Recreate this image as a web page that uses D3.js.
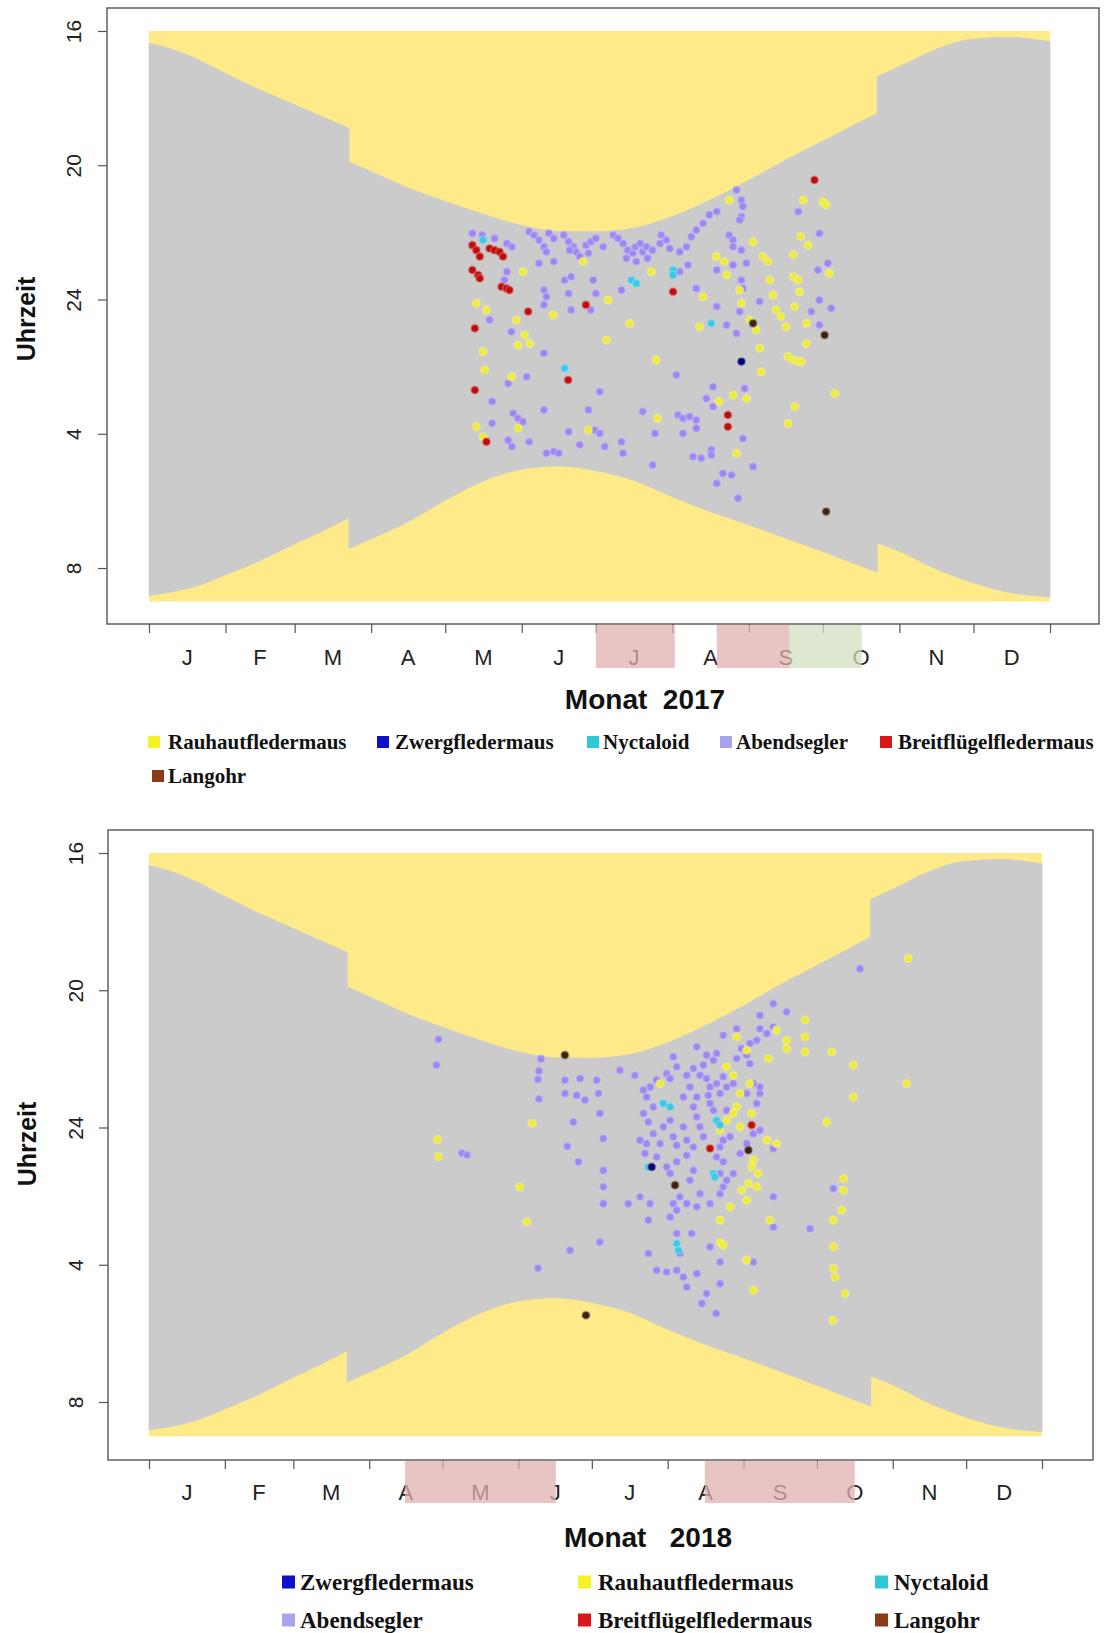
<!DOCTYPE html>
<html><head><meta charset="utf-8">
<script src="https://cdn.jsdelivr.net/npm/d3@7"></script>
<style>
body{margin:0;background:#fff;}
svg{display:block;}
</style></head><body>
<svg id="c" width="1104" height="1633"></svg>
<script>
// ---------------- data ----------------
const monthStarts = [0,31,59,90,120,151,181,212,243,273,304,334,365];
const monthLabels = ["J","F","M","A","M","J","J","A","S","O","N","D"];
const hourTicks = [16,20,24,28,32];
const hourTickLabels = ["16","20","24","4","8"];

// sunset / sunrise (hours, sunrise +24), three clock-time segments
const sunSeg1Doy = [0,10,20,31,45,59,70,81];
const sunSeg1Set = [16.37,16.56,16.86,17.27,17.76,18.2,18.55,18.9];
const sunSeg1Rise = [32.81,32.7,32.52,32.2,31.78,31.28,30.91,30.5];
const sunSeg2Doy = [81,91,105,120,135,150,166,181,196,212,227,243,258,273,285,295];
const sunSeg2Set = [19.9,20.22,20.68,21.08,21.45,21.78,21.97,21.98,21.88,21.53,21.05,20.45,19.84,19.28,18.83,18.45];
const sunSeg2Rise = [31.42,31.1,30.62,29.98,29.42,29.07,28.96,29.1,29.38,29.88,30.31,30.71,31.11,31.51,31.85,32.12];
const sunSeg3Doy = [295,304,318,333,348,365];
const sunSeg3Set = [17.36,17.06,16.57,16.25,16.19,16.32];
const sunSeg3Rise = [31.25,31.5,32.0,32.42,32.72,32.86];

const species2017 = ["Rauhautfledermaus","Zwergfledermaus","Nyctaloid","Abendsegler","Breitflügelfledermaus","Langohr"];
const species2018 = ["Zwergfledermaus","Rauhautfledermaus","Nyctaloid","Abendsegler","Breitflügelfledermaus","Langohr"];

const abendsegler2017 = [[131,22.03],[135,22.08],[140,22.18],[145,22.33],[147,22.43],[154,21.98],[156,22.08],[158,22.23],[160,22.43],[161,22.58],[162,22.03],[164,22.18],[168,22.08],[170,22.28],[172,22.43],[173,22.58],[174.5,22.72],[177,22.38],[179,22.28],[181,22.18],[184,22.43],[188,22.08],[190,22.18],[192,22.33],[194,22.53],[196,22.62],[197,22.43],[199,22.33],[200,22.58],[201.5,22.43],[204,22.53],[207,22.33],[207.5,22.08],[209.6,22.23],[211,22.48],[215,22.58],[217.7,22.43],[219.7,22.13],[221.7,21.93],[224.4,21.73],[227,21.48],[230,21.38],[235,22.08],[236.6,22.23],[238,20.74],[240,21.04],[240.6,21.23],[240,21.53],[239.3,21.63],[236.6,22.43],[240,22.53],[242,22.92],[240,23.42],[263,21.38],[271.6,22.03],[275,22.92],[271,23.12],[271.6,24.02],[276.4,24.26],[268.3,24.36],[271.6,24.76],
[145,23.17],[158,22.92],[164,22.87],[160,23.72],[161,23.92],[160,24.16],[168.4,23.42],[171,23.32],[170,23.82],[180,23.42],[181,23.82],[179,24.31],[171,24.31],[160,25.6],[153,26.3],[145.5,26.5],[139,27.04],[139,27.69],[147.5,27.39],[149.5,27.54],[151.5,27.64],[145.5,28.19],[147,28.38],[154,28.24],[160,27.29],[161,28.58],[164,28.53],[166,28.58],[170,27.94],[174.5,28.33],[178,27.29],[180.6,27.89],[182.6,27.99],[182.6,26.75],[184.6,28.38],[191.4,28.24],[192,28.58],[200,27.34],[204,28.93],[205,27.99],[213.6,26.25],[214.3,27.44],[216.3,27.54],[219,27.49],[221.7,27.59],[216.3,27.99],[221.7,27.84],[220.4,28.68],[223.7,28.73],[227.8,28.48],[227.8,28.63],[228.5,26.6],[225.8,26.95],[228.5,27.19],[232.5,29.18],[236,29.23],[230,29.48],[238.6,29.92],[244.7,28.98],[240.6,28.14],[241.3,26.65],[230,24.21],[234,24.76],[238,25.01],[239.3,24.36],[247.4,24.06],[236.6,22.97],[230,23.12],[221.7,23.67],[215,23.17],[218.3,22.97],[191.4,23.72],[240.6,23.67],
[193.4,22.77],[202,22.77],[197.4,22.87],[170.4,22.53],[178,22.62],[144,23.42],[138,24.61],[146.8,24.96]];
const rauhaut2017 = [[132.6,24.11],[136.7,24.31],[151.5,23.17],[148.8,24.61],[152.2,25.06],[154.2,25.31],[149.5,25.36],[135.3,25.55],[136,26.1],[146.8,26.3],[132.6,27.79],[135.3,28.09],[149.5,27.84],[178,27.89],[163.7,24.46],[175.8,22.87],[186,24.02],[185.3,25.21],[194.7,24.71],[203.5,23.17],[205.5,25.8],[206,27.54],[224.4,23.92],[223,24.81],[229.8,22.72],[233,22.87],[234,23.27],[235,21.04],[244.7,22.28],[239.3,23.72],[240,24.11],[243.3,24.61],[246,24.91],[247.4,25.45],[248,26.15],[251.4,23.42],[248.7,22.72],[250.7,22.87],[252.8,23.87],[254,24.31],[256,24.51],[258,24.81],[258.8,25.7],[261,25.8],[263,25.85],[264.2,25.85],[266.3,25.31],[261.5,24.21],[261,23.32],[263,23.42],[265,21.04],[273,21.09],[274.3,21.19],[275.7,23.22],[277.7,26.8],[261.5,27.19],[258.8,27.69],[231,27.04],[236.6,26.85],[242,26.95],[238,28.58],[266.3,24.71],[263.5,23.77],[261,22.67],[264,22.13],[267,22.38]];
const nyctaloid2017 = [[195.4,23.42],[197.4,23.52],[212.3,23.12],[212.3,23.27],[227.8,24.71],[168.4,26.05],[135.3,22.23]];
const zwerg2017 = [[240,25.85]];
const breit2017 = [[131,22.38],[132.6,22.53],[134,22.72],[138,22.48],[140,22.53],[142,22.58],[143.4,22.72],[131,23.12],[133.3,23.27],[134,23.37],[142.8,23.62],[144.8,23.67],[146,23.72],[153.6,24.36],[132,24.86],[177,24.16],[212.3,23.77],[169.8,26.4],[132,26.7],[136.7,28.24],[234.5,27.44],[234.5,27.79],[269.6,20.44]];
const langohr2017 = [[273.7,25.06],[244.7,24.71],[274.3,30.32]];

const abendsegler2018 = [[118.3,21.43],[117.5,22.18],[128,24.75],[130,24.8],[160.2,22.0],[159.4,22.35],[159.4,23.17],[159,22.6],[171,24.55],[159,28.1],
[290.6,19.37],[255.2,20.39],[260.6,20.63],[249.7,20.73],[255.2,21.07],[249.7,21.12],[252.5,21.26],[248.4,21.46],[245.6,21.55],[240.2,21.12],[234.7,21.31],[242.2,21.7],[244.3,21.89],[240.2,21.99],[223.9,21.65],[227.9,21.89],[232,21.84],[230.7,22.04],[226.6,22.18],[222.5,22.28],[214.3,21.94],[215.7,22.23],[211.6,22.43],[213,22.57],[219.8,22.48],[225.2,22.48],[227.9,22.57],[229.3,22.82],[232,22.72],[234.7,22.52],[236.1,22.82],[233.4,23.01],[228.6,23.06],[223.9,23.11],[221.1,22.82],[218.4,23.11],[207.5,22.62],[204.8,22.82],[202.1,22.91],[203.4,23.11],[206.1,23.4],[202.1,23.59],[204.1,23.84],[206.1,24.18],[208.9,24.47],[203.4,24.47],[202.7,24.76],[207.5,24.86],[210.2,23.98],[213,23.79],[214.3,24.27],[215.7,24.52],[218.4,23.98],[219.8,24.37],[222.5,23.4],[223.9,23.69],[225.2,23.98],[226.6,24.27],[222.5,24.57],[219.8,24.81],[215.7,25.0],[211.6,25.15],[213,25.34],[222.5,25.25],[221.1,25.54],[217,26.02],[214.3,26.22],[215.7,26.41],[213,26.61],[219.8,26.22],[223.9,26.31],[225.2,25.93],[229.3,26.22],[233.4,25.93],[234.7,25.73],[236.1,25.54],[233.4,25.34],[234.7,25.0],[232,24.86],[233.4,24.57],[234.7,24.37],[237.5,24.27],[238.8,25.34],[241.6,24.76],[244.3,24.47],[247,24.18],[249.7,24.08],[248.4,23.3],[249.7,23.01],[249.7,22.82],[247,22.72],[244.3,23.01],[238.8,22.72],[245.6,22.14],[236.1,23.5],[230.7,23.5],[229.3,23.3],
[170,22.62],[176.2,22.57],[183,22.62],[170,23.01],[174.8,23.06],[178.2,23.2],[183.7,23.01],[184.3,23.59],[173.4,23.84],[185.7,24.32],[192.5,22.33],[198.6,22.48],[200.7,24.37],[175.5,25.0],[185.7,25.25],[185.7,25.73],[185.7,26.22],[195.9,26.22],[200.7,26.02],[204.1,26.7],[204.8,26.22],[184.3,27.34],[172.1,27.58],
[204.1,27.67],[207.5,28.16],[211.6,28.21],[215.7,28.16],[218.4,28.36],[219.8,28.65],[223.9,28.26],[227.9,28.84],[233.4,27.92],[233.4,28.55],[215.7,27.09],[217,27.67],[229.3,27.48],[221.8,27.09],[247,27.92],[255.2,24.61],[255.2,26.02],[255.2,26.9],[270.2,26.95],[279.7,25.78],[226,29.13],[231.8,29.42]];
const rauhaut2018 = [[117.9,24.35],[118.3,24.85],[156.6,23.88],[151.5,25.73],[154.4,26.75],
[310.4,19.07],[268.1,20.87],[268.1,21.36],[268.1,21.8],[260.6,21.46],[260.6,21.7],[256.5,21.16],[253.1,21.99],[279,21.8],[287.9,22.18],[309.7,22.72],[287.9,23.11],[277,23.84],[240.2,21.36],[244.3,21.75],[236.1,22.23],[238.8,22.48],[241.6,23.01],[240.2,23.4],[238.8,23.59],[236.1,23.79],[233.4,24.08],[241.6,23.98],[245.6,22.72],[246.3,23.59],[247,24.95],[246.3,25.15],[249,25.34],[245,25.63],[248.4,25.73],[242.2,25.83],[244.3,26.12],[237.5,26.31],[233.4,26.7],[233.4,27.34],[234.7,27.43],[252.5,24.37],[256.5,24.47],[253.8,26.7],[283.8,25.49],[283.8,25.83],[283.1,26.41],[279.7,26.7],[279.7,27.48],[279.7,28.11],[280.4,28.36],[284.5,28.84],[247,28.74],[244.3,27.87],[208.9,22.72],[279.5,29.62]];
const nyctaloid2018 = [[210.2,23.3],[213,23.4],[232,23.79],[233.4,23.93],[204.1,25.15],[230.7,25.34],[231.3,25.44],[215.7,27.38],[216.4,27.58]];
const zwerg2018 = [[205.5,25.15]];
const breit2018 = [[246.3,23.93],[229.3,24.61]];
const langohr2018 = [[215,25.68],[170,21.89],[245,24.66],[178.6,29.47]];

// highlighted periods (day of year from, to, kind)
const highlights2017 = [[181,213,"a"],[230,259.5,"a"],[259.5,288.7,"b"]];
const highlights2018 = [[104.6,166.3,"a"],[227.2,288.5,"a"]];

// ---------------- styles ----------------
const dotColor = {
  "Abendsegler":"#9E88F0","Rauhautfledermaus":"#EEEC38","Nyctaloid":"#3CC8E6",
  "Zwergfledermaus":"#000070","Breitflügelfledermaus":"#C00C0C","Langohr":"#3E2212"
};
const legendColor = {
  "Abendsegler":"#A8A4EC","Rauhautfledermaus":"#F6F22A","Nyctaloid":"#30C8D8",
  "Zwergfledermaus":"#1010C8","Breitflügelfledermaus":"#D81818","Langohr":"#8A3C18"
};
const bandColor = {a:"#E0B0B0", b:"#D3E0C0"};
const drawOrder = ["Abendsegler","Rauhautfledermaus","Nyctaloid","Zwergfledermaus","Breitflügelfledermaus","Langohr"];

const charts = [
  { series:{"Abendsegler":abendsegler2017,"Rauhautfledermaus":rauhaut2017,"Nyctaloid":nyctaloid2017,"Zwergfledermaus":zwerg2017,"Breitflügelfledermaus":breit2017,"Langohr":langohr2017},
    species:species2017, highlights:highlights2017, title:"Monat  2017",
    xRange:[149,1050], yRange:[31,568], box:[107,8,1099,624],
    monthLabelY:657, band:[624,668], titleX:645, titleY:699,
    yLabelX:73, uhrX:26, uhrY:319,
    legendFont:21, legendSq:12,
    legendPos:[[148,168,742],[377,395,742],[587,603,742],[720,736,742],[880,898,742],[152,168,776]] },
  { series:{"Abendsegler":abendsegler2018,"Rauhautfledermaus":rauhaut2018,"Nyctaloid":nyctaloid2018,"Zwergfledermaus":zwerg2018,"Breitflügelfledermaus":breit2018,"Langohr":langohr2018},
    species:species2018, highlights:highlights2018, title:"Monat   2018",
    xRange:[149,1042], yRange:[853,1402], box:[108,830,1093,1460],
    monthLabelY:1492, band:[1460,1503], titleX:648, titleY:1537,
    yLabelX:75, uhrX:27, uhrY:1144,
    legendFont:23, legendSq:13,
    legendPos:[[282,300,1582],[578,598,1582],[875,894,1582],[282,300,1620],[578,598,1620],[875,894,1620]] }
];

const svg = d3.select("#c");
const sans = "'Liberation Sans', Arial, Helvetica, sans-serif";
const serif = "'Liberation Serif', 'Times New Roman', serif";

charts.forEach(cfg => {
  const g = svg.append("g");
  const x = d3.scaleLinear().domain([0,365]).range(cfg.xRange);
  const y = d3.scaleLinear().domain([16,32]).range(cfg.yRange);
  const [bx0,by0,bx1,by1] = cfg.box;

  // daylight background
  g.append("rect").attr("x",x(0)).attr("y",y(16)).attr("width",x(365)-x(0)).attr("height",y(33)-y(16))
    .attr("fill","#FFEA8A");

  // night area
  const area = d3.area().x(d=>x(d[0])).y0(d=>y(d[1])).y1(d=>y(d[2])).curve(d3.curveMonotoneX);
  [[sunSeg1Doy,sunSeg1Set,sunSeg1Rise],[sunSeg2Doy,sunSeg2Set,sunSeg2Rise],[sunSeg3Doy,sunSeg3Set,sunSeg3Rise]].forEach(([dd,ss,rr])=>{
    const pts = dd.map((d,i)=>[d,ss[i],rr[i]]);
    g.append("path").attr("d",area(pts)).attr("fill","#CBCBCB").attr("stroke","#CBCBCB").attr("stroke-width",0.8);
  });

  // dots
  drawOrder.forEach(sp => {
    const halo = d3.interpolateRgb(dotColor[sp], "#ffffff")(0.45);
    g.append("g").selectAll("circle").data(cfg.series[sp]).join("circle")
      .attr("cx",d=>x(d[0])).attr("cy",d=>y(d[1])).attr("r",3.8)
      .attr("fill",dotColor[sp]).attr("stroke",halo).attr("stroke-opacity",0.45).attr("stroke-width",1.8);
  });

  // box
  g.append("rect").attr("x",bx0).attr("y",by0).attr("width",bx1-bx0).attr("height",by1-by0)
    .attr("fill","none").attr("stroke","#555").attr("stroke-width",1.4);

  // y axis
  const ya = g.append("g").attr("transform",`translate(${bx0},0)`)
    .call(d3.axisLeft(y).tickValues(hourTicks).tickFormat((d,i)=>hourTickLabels[i]).tickSize(9));
  ya.select(".domain").remove();
  ya.selectAll(".tick line").attr("stroke","#555").attr("stroke-width",1.2);
  ya.selectAll(".tick text").attr("x",0).attr("dy",null).attr("text-anchor","middle")
    .attr("dominant-baseline","central")
    .attr("transform",`translate(${cfg.yLabelX-bx0},0) rotate(-90)`)
    .attr("font-family",sans).attr("font-size",21).attr("fill","#222");

  // x axis
  const xa = g.append("g").attr("transform",`translate(0,${by1})`)
    .call(d3.axisBottom(x).tickValues(monthStarts).tickFormat("").tickSize(9));
  xa.select(".domain").remove();
  xa.selectAll(".tick line").attr("stroke","#555").attr("stroke-width",1.2);

  g.append("g").selectAll("text").data(monthLabels).join("text")
    .attr("x",(d,i)=>x((monthStarts[i]+monthStarts[i+1])/2)).attr("y",cfg.monthLabelY)
    .attr("text-anchor","middle").attr("dominant-baseline","central")
    .attr("font-family",sans).attr("font-size",22).attr("fill","#222").text(d=>d);

  // highlighted periods
  g.append("g").selectAll("rect").data(cfg.highlights).join("rect")
    .attr("x",d=>x(d[0])).attr("width",d=>x(d[1])-x(d[0]))
    .attr("y",cfg.band[0]+1).attr("height",cfg.band[1]-cfg.band[0]-1)
    .attr("fill",d=>bandColor[d[2]]).attr("opacity",0.75);

  // titles
  g.append("text").attr("x",cfg.titleX).attr("y",cfg.titleY).attr("text-anchor","middle")
    .attr("dominant-baseline","central").style("white-space","pre")
    .attr("font-family",sans).attr("font-weight","bold").attr("font-size",28).attr("fill","#111").text(cfg.title);
  g.append("text").attr("transform",`translate(${cfg.uhrX},${cfg.uhrY}) rotate(-90)`)
    .attr("text-anchor","middle").attr("dominant-baseline","central")
    .attr("font-family",sans).attr("font-weight","bold").attr("font-size",25).attr("fill","#111").text("Uhrzeit");

  // legend
  const lg = g.append("g").selectAll("g").data(cfg.species).join("g");
  lg.append("rect").attr("x",(d,i)=>cfg.legendPos[i][0]).attr("y",(d,i)=>cfg.legendPos[i][2]-cfg.legendSq/2)
    .attr("width",cfg.legendSq).attr("height",cfg.legendSq).attr("fill",d=>legendColor[d]);
  lg.append("text").attr("x",(d,i)=>cfg.legendPos[i][1]).attr("y",(d,i)=>cfg.legendPos[i][2])
    .attr("dy","0.34em").attr("font-family",serif).attr("font-weight","bold")
    .attr("font-size",cfg.legendFont).attr("fill","#111").text(d=>d);
});
</script>
</body></html>
